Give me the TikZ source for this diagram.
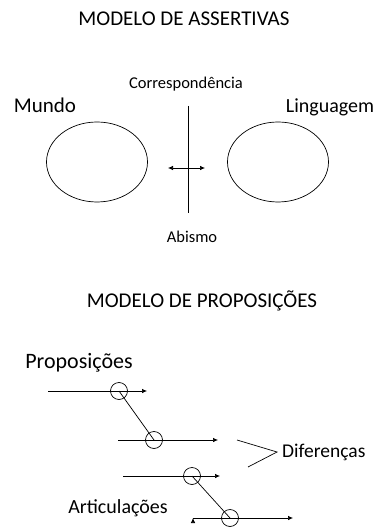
\documentclass[tikz,border=0pt]{standalone}
\usepackage{fontspec}
\setmainfont{Carlito}
\usetikzlibrary{shapes.geometric,arrows.meta,positioning}

\begin{document}
\begin{tikzpicture}
		[x=1pt,y=-1pt,
		title/.style ={font=\fontsize{21}{24}\selectfont},
		big/.style ={font=\fontsize{21}{24}\selectfont},
		small/.style ={font=\fontsize{16.5}{19}\selectfont},
		world/.style ={draw, line width=0.7pt, ellipse, minimum width=101pt, minimum height=80pt, inner sep=0pt},
		ring/.style ={draw, line width=0.7pt, circle, minimum size=17pt, inner sep=0pt},
		line/.style ={draw, line width=0.7pt, -{Latex[length=5pt,width=4.5pt]}},
		]
		\useasboundingbox (0,0) rectangle (384,529);

		% assertivas
		\draw (184,19) node[title] (T1) {MODELO DE ASSERTIVAS};
		\draw (186,84) node[small] (C) {Correspondência};
		\draw (45,105) node[big] (M) {Mundo};
		\draw (330,107) node[font=\fontsize{20}{24}\selectfont] (L) {Linguagem};
		\draw (192,237) node[small] (A) {Abismo};
		\draw (97,162) node[world] (W1) {};
		\draw (278,162) node[world] (W2) {};
		\coordinate (V1) at (188,106);
		\coordinate (V2) at (188,213);
		\coordinate (H1) at (168,168);
		\coordinate (H2) at (205,168);
		\draw[line width=0.7pt] (V1) -- (V2);
		\draw[line width=0.7pt, {Latex[length=5pt,width=4.5pt]}-{Latex[length=5pt,width=4.5pt]}] (H1) -- (H2);

		% proposicoes
		\draw (202,301) node[title] (T2) {MODELO DE PROPOSIÇÕES};
		\draw (79,363) node[font=\fontsize{22}{26}\selectfont] (P) {Proposições};
		\draw (118,508) node[font=\fontsize{20}{24}\selectfont] (Ar) {Articulações};
		\draw (282,452) node[font=\fontsize{19.5}{23}\selectfont, anchor=west, inner sep=0pt] (D) {Diferenças};

		\draw (119,391) node[ring] (O1) {};
		\draw (154,440) node[ring] (O2) {};
		\draw (192,476) node[ring] (O3) {};
		\draw (230,518) node[ring] (O4) {};

		\coordinate (S1) at (48,391);  \coordinate (E1) at (147,391);
		\coordinate (S2) at (118,440); \coordinate (E2) at (218,440);
		\coordinate (S3) at (123,476); \coordinate (E3) at (220,476);
		\coordinate (S4) at (193,518); \coordinate (E4) at (293,518);

		\path[line]
		(S1) edge (E1)
		(S2) edge (E2)
		(S3) edge (E3)
		(S4) edge (E4);
		\draw[line width=0.7pt] (O1.center) -- (O2.center);
		\draw[line width=0.7pt] (O3.center) -- (O4.center);

		\draw[line width=0.7pt] (237,440) -- (277,452) -- (248,467);
	\end{tikzpicture}
\end{document}
